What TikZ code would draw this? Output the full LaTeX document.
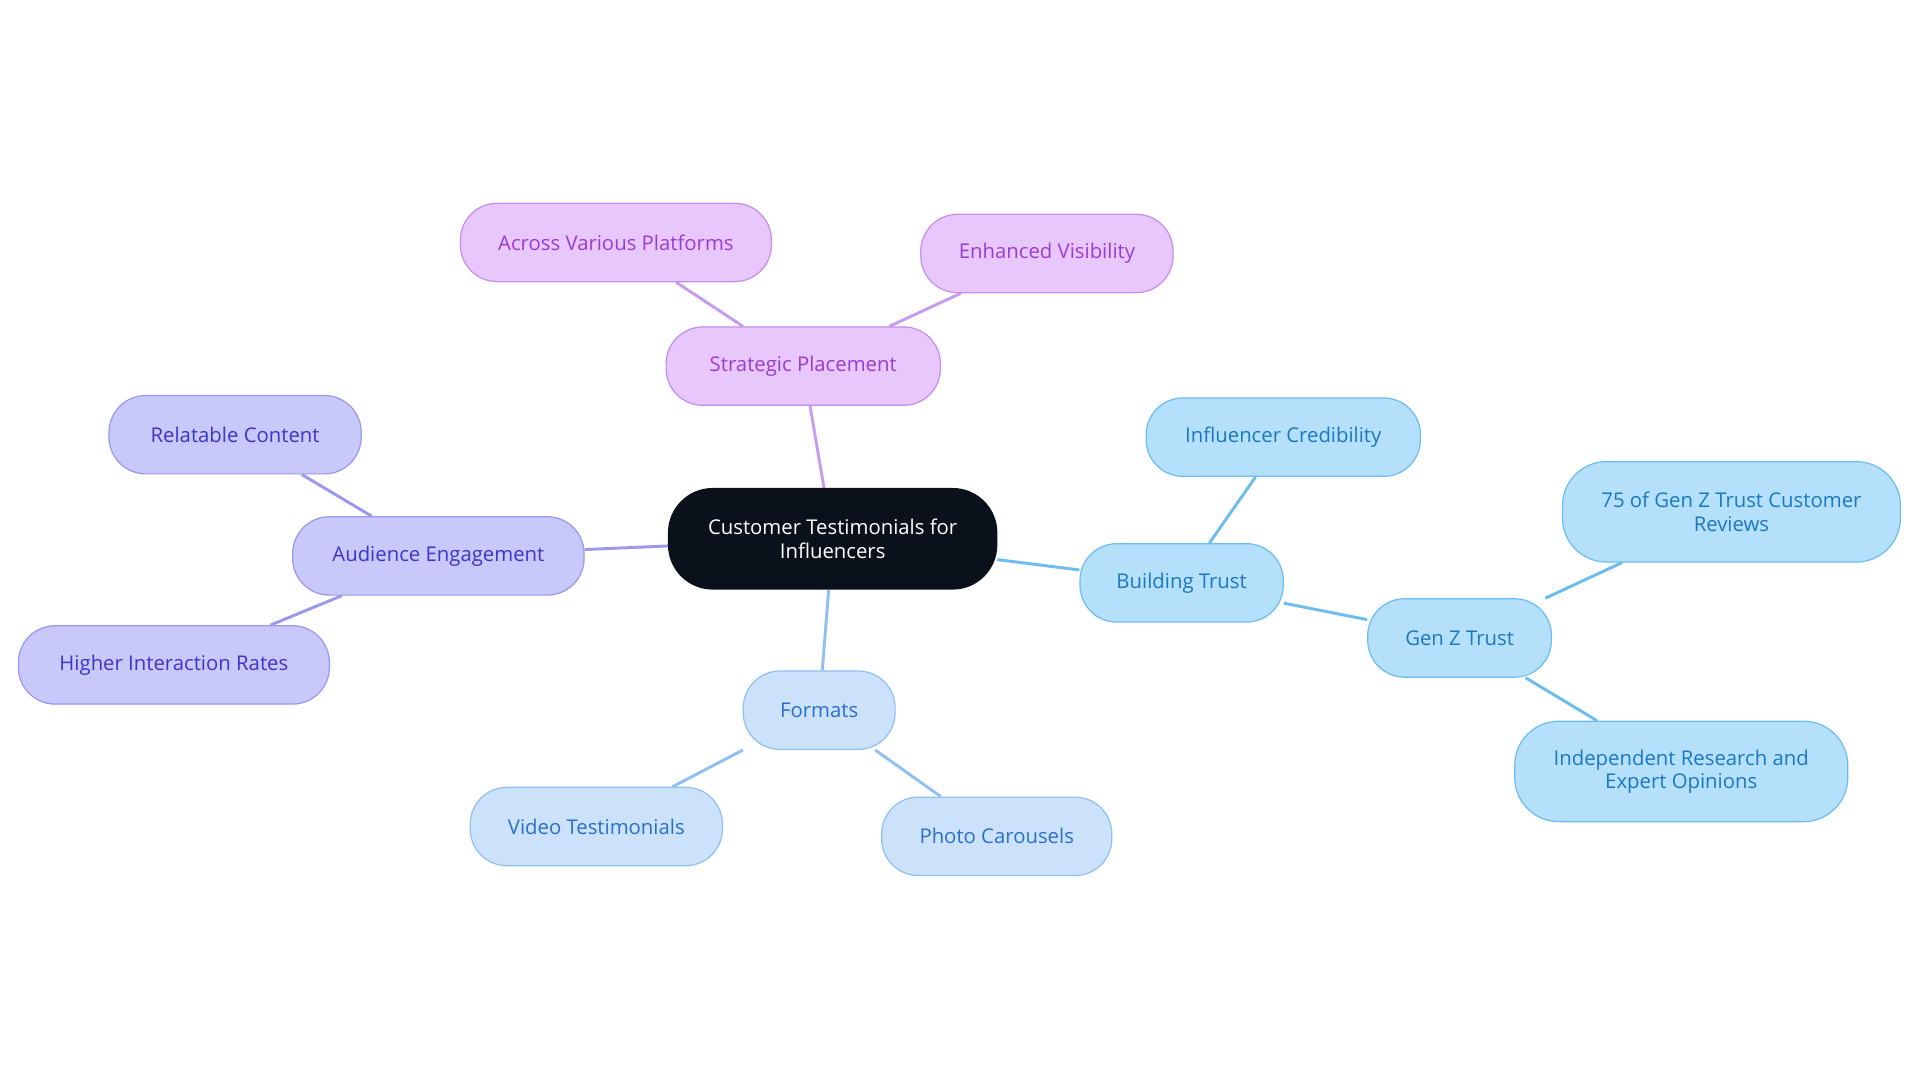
\documentclass[tikz,border=0pt]{standalone}
\usepackage{fontspec}
\setmainfont{Open Sans}
\usetikzlibrary{backgrounds}
\definecolor{puF}{RGB}{232,200,252}\definecolor{puD}{RGB}{196,142,240}\definecolor{puT}{RGB}{155,59,214}\definecolor{puE}{RGB}{199,156,240}
\definecolor{inF}{RGB}{201,200,251}\definecolor{inD}{RGB}{154,152,238}\definecolor{inT}{RGB}{59,53,200}\definecolor{inE}{RGB}{155,152,238}
\definecolor{foF}{RGB}{204,226,251}\definecolor{foD}{RGB}{144,192,240}\definecolor{foT}{RGB}{42,111,204}\definecolor{foE}{RGB}{143,192,239}
\definecolor{btF}{RGB}{181,224,252}\definecolor{btD}{RGB}{108,188,240}\definecolor{btT}{RGB}{26,120,194}\definecolor{btE}{RGB}{108,188,238}
\definecolor{ctr}{RGB}{11,17,27}
\begin{document}
\begin{tikzpicture}[x=0.5pt,y=-0.5pt,
 b/.style={draw,rounded corners=15pt,minimum height=32pt,align=center,font=\fontsize{8.3}{9.5}\selectfont,line width=0.5pt},
 pu/.style={b,fill=puF,draw=puD,text=puT},
 ind/.style={b,fill=inF,draw=inD,text=inT},
 fo/.style={b,fill=foF,draw=foD,text=foT},
 bt/.style={b,fill=btF,draw=btD,text=btT},
 e/.style={line width=1.2pt}]
\useasboundingbox (0,0) rectangle (1568,884);
\node[b,fill=ctr,draw=ctr,text=white,minimum width=134pt,minimum height=41pt,rounded corners=18pt] (c) at (680,440) {Customer Testimonials for\\Influencers};
\node[pu,minimum width=112pt] (sp) at (656,299) {Strategic Placement};
\node[pu,minimum width=127pt] (av) at (503,198) {Across Various Platforms};
\node[pu,minimum width=103pt] (ev) at (855,207) {Enhanced Visibility};
\node[ind,minimum width=119pt] (ae) at (358,454) {Audience Engagement};
\node[ind,minimum width=103pt] (rc) at (192,355) {Relatable Content};
\node[ind,minimum width=127pt] (hi) at (142,543) {Higher Interaction Rates};
\node[fo,minimum width=62pt] (fm) at (669,580) {Formats};
\node[fo,minimum width=103pt] (vt) at (487,675) {Video Testimonials};
\node[fo,minimum width=94pt] (pc) at (814,683) {Photo Carousels};
\node[bt,minimum width=83pt] (bt) at (965,476) {Building Trust};
\node[bt,minimum width=112pt] (ic) at (1048,357) {Influencer Credibility};
\node[bt,minimum width=75pt] (gz) at (1192,521) {Gen Z Trust};
\node[bt,minimum width=138pt,minimum height=41pt,rounded corners=18pt] (sf) at (1414,418) {75 of Gen Z Trust Customer\\Reviews};
\node[bt,minimum width=136pt,minimum height=41pt,rounded corners=18pt] (ir) at (1373,630) {Independent Research and\\Expert Opinions};
\begin{scope}[on background layer]
\draw[e,draw=puE] (c) -- (sp) (sp) -- (av) (sp) -- (ev);
\draw[e,draw=inE] (c) -- (ae) (ae) -- (rc) (ae) -- (hi);
\draw[e,draw=foE] (c) -- (fm) (fm) -- (vt) (fm) -- (pc);
\draw[e,draw=btE] (c) -- (bt) (bt) -- (ic) (bt) -- (gz) (gz) -- (sf) (gz) -- (ir);
\end{scope}
\end{tikzpicture}
\end{document}
